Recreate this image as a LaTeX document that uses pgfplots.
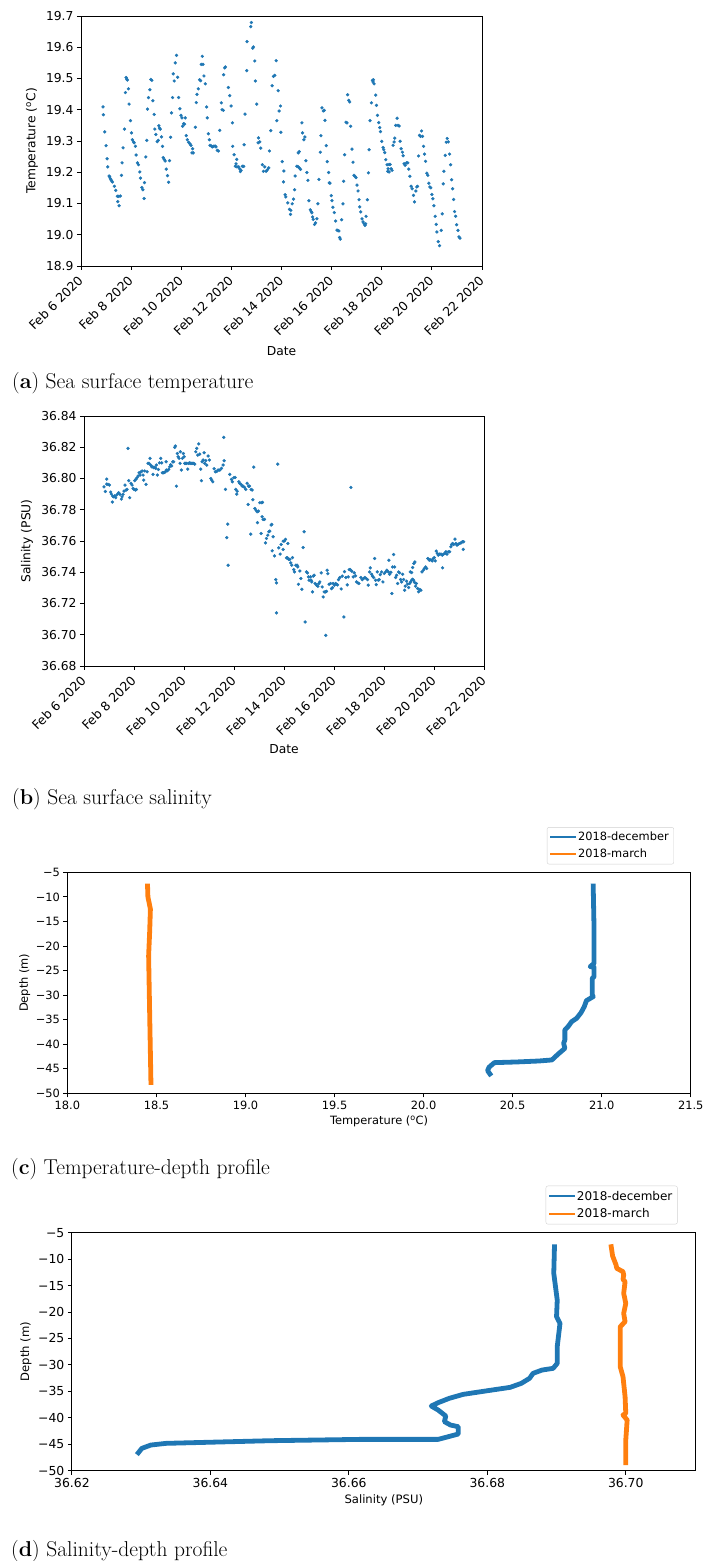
\documentclass[border=0pt]{standalone}
\usepackage{fontspec}
\usepackage{pgfplots}
\pgfplotsset{compat=1.18}
\newfontfamily\djv{DejaVu Sans}
\definecolor{tabblue}{HTML}{1F77B4}
\definecolor{taborange}{HTML}{FF7F0E}

\newcommand{\degC}{\textsuperscript{o}C}

\pgfplotsset{
  mplaxis/.style={
    scale only axis, anchor=south west,
    axis line style={line width=0.9pt, black},
    tick pos=left, tick align=outside, major tick length=4pt,
    major tick style={line width=0.9pt, black},
    tick label style={font=\djv\fontsize{12.3}{14}\selectfont},
    label style={font=\djv\fontsize{12.3}{14}\selectfont},
  },
  datelabels/.style={
    xmin=0, xmax=16,
    xtick={0,2,...,16},
    xticklabels={Feb 6 2020,Feb 8 2020,Feb 10 2020,Feb 12 2020,Feb 14 2020,Feb 16 2020,Feb 18 2020,Feb 20 2020,Feb 22 2020},
    xticklabel style={xshift=-4pt, yshift=-3pt, rotate=45, anchor=north east, inner sep=1pt, font=\djv\fontsize{12.5}{14}\selectfont},
  },
  profile/.style={
    ymin=-50, ymax=-5,
    ytick={-50,-45,-40,-35,-30,-25,-20,-15,-10,-5},
    yticklabels={−50,−45,−40,−35,−30,−25,−20,−15,−10,−5},
    ylabel={Depth (m)},
    legend cell align=left,
    legend image code/.code={\draw[line width=2pt] (0pt,0pt) -- (24pt,0pt);},
  },
  scatterdots/.style={only marks, mark=*, mark size=1.45pt, color=tabblue, mark options={draw=none, fill=tabblue}},
  profileline/.style={line width=4.8pt, line join=round, line cap=rect},
}

\begin{document}
\begin{tikzpicture}[x=1pt, y=1pt]
\useasboundingbox (0,0) rectangle (703,1561);

% ---------------- (a) sea surface temperature ----------------
\begin{axis}[mplaxis, datelabels,
  at={(81pt,1295pt)}, width=401pt, height=250pt,
  ymin=18.9, ymax=19.7,
  ytick={18.9,19.0,19.1,19.2,19.3,19.4,19.5,19.6,19.7},
  yticklabels={18.9,19.0,19.1,19.2,19.3,19.4,19.5,19.6,19.7},
  xlabel={Date}, ylabel={Temperature (\degC)},
  xlabel style={at={(axis description cs:0.5,-0.34)}, anchor=center},
  ylabel style={at={(axis description cs:-0.122,0.5)}, anchor=center},
]
\addplot[scatterdots] coordinates {
(0.88,19.409)(0.893,19.384)(0.947,19.329)(1.0,19.285)(1.04,19.243)(1.067,19.217)(1.12,19.188)(1.147,19.185)(1.173,19.179)(1.2,19.175)(1.227,19.172)(1.253,19.169)(1.333,19.155)(1.387,19.142)(1.453,19.123)(1.507,19.123)(1.573,19.124)(1.467,19.106)(1.52,19.093)
(1.613,19.190)(1.64,19.230)(1.68,19.278)(1.733,19.338)(1.773,19.455)(1.8,19.503)(1.827,19.498)(1.853,19.495)(1.893,19.467)(1.92,19.418)(1.973,19.365)(2.013,19.326)(2.053,19.304)(2.093,19.297)(2.12,19.294)(2.173,19.283)(2.2,19.255)(2.253,19.230)(2.293,19.224)(2.347,19.201)(2.373,19.181)(2.427,19.151)(2.467,19.144)(2.52,19.116)
(2.533,19.167)(2.587,19.249)(2.627,19.302)(2.653,19.402)(2.693,19.439)(2.747,19.464)(2.787,19.497)(2.827,19.494)(2.867,19.429)(2.92,19.385)(2.947,19.338)(2.987,19.321)(3.04,19.298)(3.08,19.302)(3.107,19.349)(3.133,19.341)(3.16,19.338)(3.213,19.313)(3.253,19.283)(3.28,19.247)(3.32,19.241)(3.36,19.236)(3.4,19.210)(3.453,19.189)(3.493,19.168)
(3.533,19.237)(3.573,19.312)(3.613,19.390)(3.653,19.439)(3.68,19.515)(3.72,19.492)(3.76,19.550)(3.813,19.574)(3.853,19.504)(3.893,19.439)(3.947,19.403)(3.987,19.382)(4.027,19.374)(4.053,19.347)(4.093,19.355)(4.133,19.354)(4.16,19.374)(4.2,19.317)(4.24,19.304)(4.293,19.296)(4.347,19.291)(4.387,19.286)(4.453,19.275)(4.427,19.262)(4.48,19.262)
(4.56,19.344)(4.6,19.423)(4.627,19.449)(4.68,19.467)(4.733,19.496)(4.773,19.493)(4.8,19.545)(4.84,19.571)(4.867,19.545)(4.907,19.508)(4.96,19.483)(5.013,19.409)(5.04,19.374)(5.08,19.323)(5.12,19.304)(5.147,19.286)(5.2,19.284)(5.24,19.281)(5.293,19.283)(5.347,19.284)(5.387,19.281)(5.44,19.270)(5.48,19.268)
(5.533,19.334)(5.6,19.422)(5.627,19.400)(5.68,19.398)(5.693,19.512)(5.733,19.534)(5.76,19.537)
(5.88,19.471)(5.933,19.445)(5.987,19.412)(6.04,19.358)(6.053,19.283)(6.107,19.256)(6.16,19.219)(6.187,19.227)(6.213,19.241)(6.227,19.217)(6.293,19.217)(6.333,19.211)(6.36,19.202)(6.387,19.206)(6.44,19.219)(6.493,19.219)
(6.507,19.288)(6.547,19.386)(6.613,19.525)(6.627,19.618)(6.773,19.666)(6.8,19.679)(6.853,19.597)(6.88,19.601)(6.933,19.556)(6.96,19.492)(7.013,19.418)(7.08,19.310)(7.067,19.294)(7.133,19.297)(7.173,19.277)(7.24,19.224)(7.28,19.203)(7.333,19.217)(7.387,19.203)(7.44,19.208)(7.493,19.214)
(7.52,19.268)(7.573,19.333)(7.627,19.477)(7.68,19.507)(7.733,19.510)(7.787,19.557)(7.813,19.365)(7.867,19.461)(7.907,19.396)(7.96,19.412)(7.973,19.328)(8.027,19.234)(8.093,19.204)(8.08,19.169)(8.147,19.128)(8.173,19.121)(8.253,19.102)(8.32,19.081)(8.373,19.078)(8.36,19.065)(8.427,19.099)
(8.48,19.114)(8.52,19.144)(8.547,19.188)(8.613,19.219)(8.667,19.217)(8.72,19.213)(8.76,19.209)(8.667,19.262)(8.707,19.266)(8.813,19.358)(8.84,19.326)(8.893,19.304)(8.933,19.313)(8.973,19.237)(9.013,19.199)(9.053,19.174)(9.093,19.109)(9.147,19.080)(9.187,19.074)(9.213,19.070)(9.24,19.057)(9.267,19.049)(9.32,19.033)(9.36,19.038)(9.413,19.051)
(9.453,19.099)(9.493,19.177)(9.547,19.264)(9.573,19.317)(9.613,19.406)(9.667,19.396)(9.707,19.398)(9.733,19.366)(9.787,19.285)(9.827,19.234)(9.88,19.199)(9.907,19.166)(9.933,19.165)(9.987,19.125)(10.013,19.109)(10.053,19.088)(10.107,19.071)(10.16,19.044)(10.213,19.015)(10.253,19.013)(10.293,19.012)(10.32,18.991)(10.347,18.986)
(10.4,19.048)(10.453,19.099)(10.48,19.171)(10.52,19.256)(10.573,19.360)(10.613,19.358)(10.64,19.448)(10.68,19.430)(10.72,19.425)(10.76,19.347)(10.813,19.274)(10.853,19.232)(10.893,19.190)(10.933,19.187)(10.973,19.183)(11.013,19.159)(11.053,19.140)(11.093,19.112)(11.12,19.089)(11.16,19.073)
(11.213,19.051)(11.253,19.041)(11.293,19.035)(11.333,19.030)(11.36,19.035)(11.373,19.059)(11.427,19.112)(11.467,19.198)(11.493,19.272)(11.533,19.365)(11.587,19.422)(11.627,19.494)(11.653,19.489)(11.667,19.496)(11.693,19.483)(11.76,19.447)(11.787,19.414)(11.827,19.382)(11.88,19.359)(11.92,19.343)(11.947,19.330)(12.0,19.299)(12.053,19.279)(12.08,19.272)(12.12,19.263)(12.16,19.240)(12.213,19.224)(12.253,19.211)(12.24,19.203)(12.293,19.225)(12.293,19.201)(12.333,19.225)(12.373,19.211)(12.413,19.206)
(12.453,19.286)(12.493,19.297)(12.52,19.309)(12.56,19.350)(12.613,19.373)(12.653,19.350)(12.693,19.348)(12.733,19.299)(12.773,19.275)(12.827,19.264)(12.853,19.253)(12.893,19.227)(12.933,19.222)(12.987,19.230)(13.04,19.230)(13.08,19.210)(13.12,19.187)(13.173,19.155)(13.213,19.147)(13.267,19.126)(13.307,19.105)(13.36,19.140)(13.4,19.153)(13.427,19.155)
(13.467,19.252)(13.507,19.318)(13.547,19.315)(13.587,19.332)(13.627,19.315)(13.667,19.283)(13.707,19.258)(13.747,19.235)(13.8,19.197)(13.84,19.190)(13.88,19.165)(13.92,19.153)(13.96,19.150)(14.0,19.129)(14.04,19.115)(14.08,19.093)(14.133,19.059)(14.173,19.033)(14.2,19.009)(14.253,18.978)(14.307,18.965)
(14.373,19.014)(14.413,19.067)(14.453,19.163)(14.48,19.203)(14.533,19.254)(14.573,19.296)(14.613,19.308)(14.653,19.297)(14.707,19.258)(14.747,19.224)(14.787,19.176)(14.827,19.147)(14.867,19.113)(14.907,19.074)(14.947,19.059)(14.987,19.032)(15.04,19.014)(15.08,18.993)(15.12,18.989)
};
\end{axis}

% ---------------- (b) sea surface salinity ----------------
\begin{axis}[mplaxis, datelabels,
  at={(84pt,895pt)}, width=400pt, height=250pt,
  ymin=36.68, ymax=36.84,
  ytick={36.68,36.70,36.72,36.74,36.76,36.78,36.80,36.82,36.84},
  yticklabels={36.68,36.70,36.72,36.74,36.76,36.78,36.80,36.82,36.84},
  xlabel={Date}, ylabel={Salinity (PSU)},
  xlabel style={at={(axis description cs:0.5,-0.332)}, anchor=center},
  ylabel style={at={(axis description cs:-0.1425,0.5)}, anchor=center},
]
\addplot[scatterdots] coordinates {
(0.80,36.7947)(0.854,36.7917)(0.907,36.7996)(0.907,36.7964)(0.961,36.7962)(1.014,36.7958)(1.067,36.7913)(1.094,36.7900)(1.134,36.7849)(1.148,36.7887)(1.188,36.7883)(1.228,36.7889)(1.268,36.7877)(1.308,36.7894)(1.361,36.7904)(1.388,36.7909)(1.441,36.7898)(1.495,36.7868)(1.521,36.7883)(1.561,36.7898)(1.601,36.7919)(1.641,36.7958)(1.681,36.7926)(1.721,36.7930)(1.761,36.8193)(1.788,36.7986)(1.828,36.7877)(1.882,36.7969)(1.922,36.7958)(1.962,36.7936)(2.002,36.7930)(2.055,36.7926)(2.095,36.7930)(2.028,36.7986)(2.082,36.7996)(2.122,36.8005)(2.162,36.8016)(2.202,36.8037)(2.242,36.8022)(2.268,36.8041)(2.322,36.8048)(2.362,36.8022)(2.389,36.7990)(2.429,36.8048)(2.482,36.7962)(2.522,36.8043)
(2.562,36.8097)(2.602,36.8097)(2.642,36.8129)(2.669,36.8086)(2.709,36.8075)(2.749,36.8075)(2.789,36.8069)(2.829,36.8071)(2.869,36.8065)(2.762,36.8026)(2.936,36.8022)(2.896,36.8086)(2.976,36.8058)(3.016,36.8100)(3.069,36.8129)(3.109,36.8100)(3.136,36.8037)(3.176,36.8037)(3.216,36.8039)(3.256,36.8043)(3.296,36.8054)(3.283,36.8107)(3.336,36.8050)(3.389,36.8058)(3.429,36.8075)(3.469,36.8088)(3.509,36.8080)(3.550,36.8107)(3.589,36.8107)(3.630,36.8199)(3.656,36.8208)(3.696,36.7951)(3.736,36.8160)(3.763,36.8139)(3.803,36.8129)(3.843,36.8097)(3.857,36.8171)(3.896,36.8054)(3.936,36.8129)(3.976,36.8160)
(4.003,36.8139)(4.030,36.8097)(4.070,36.8097)(4.110,36.8097)(4.150,36.8060)(4.190,36.8097)(4.230,36.8100)(4.270,36.8097)(4.310,36.8097)(4.350,36.8097)(4.390,36.8097)(4.430,36.8092)(4.470,36.8171)(4.510,36.8193)(4.550,36.8150)(4.590,36.8221)(4.630,36.8156)(4.670,36.8060)(4.697,36.7986)(4.724,36.8107)(4.764,36.8118)(4.804,36.8165)(4.831,36.8097)(4.871,36.8114)(4.911,36.8086)(4.964,36.8144)(5.017,36.8118)(5.071,36.8000)(5.111,36.7990)(5.151,36.7979)(5.204,36.8062)(5.258,36.8043)(5.311,36.8045)(5.364,36.8054)(5.431,36.8054)(5.498,36.8065)(5.565,36.8086)(5.591,36.8263)
(5.605,36.8114)(5.658,36.7930)(5.751,36.7708)(5.711,36.7622)(5.765,36.7445)(5.831,36.8026)(5.898,36.7994)(5.938,36.7979)(5.992,36.8005)(6.045,36.8007)(6.072,36.7930)(6.125,36.7919)(6.112,36.7900)(6.192,36.7979)(6.232,36.7969)(6.285,36.7962)(6.325,36.7951)(6.365,36.7951)(6.418,36.7943)(6.472,36.7930)(6.525,36.7969)(6.579,36.7951)(6.619,36.7951)(6.685,36.7930)(6.725,36.7926)(6.565,36.7834)(6.672,36.7644)(6.752,36.7864)(6.792,36.8073)(6.832,36.7808)(6.885,36.7796)(6.925,36.7787)(6.979,36.7791)(7.032,36.7845)(7.112,36.7845)(7.139,36.7847)(6.939,36.7717)(7.086,36.7648)(7.125,36.7755)(7.165,36.7738)(7.219,36.7738)
(7.259,36.7588)(7.299,36.7616)(7.352,36.7637)(7.392,36.7659)(7.432,36.7663)(7.486,36.7702)(7.512,36.7706)(7.566,36.7627)(7.526,36.7537)(7.619,36.7505)(7.672,36.7353)(7.699,36.7332)(7.699,36.7140)(7.752,36.8092)(7.793,36.7556)(7.846,36.7516)(7.886,36.7578)(7.966,36.7546)(7.966,36.7599)(8.019,36.7601)(8.059,36.7610)(8.099,36.7492)(8.139,36.7492)(8.192,36.7482)(8.232,36.7482)(8.272,36.7460)(8.152,36.7584)(8.312,36.7445)(8.339,36.7494)(8.392,36.7417)(8.419,36.7402)(8.472,36.7445)(8.526,36.7445)(8.552,36.7434)(8.579,36.7323)(8.632,36.7408)(8.672,36.7360)(8.712,36.7291)(8.767,36.7558)(8.806,36.7659)(8.846,36.7082)
(8.899,36.7402)(8.939,36.7396)(8.979,36.7370)(9.006,36.7349)(9.059,36.7370)(9.086,36.7349)(9.113,36.7338)(9.166,36.7375)(9.139,36.7274)(9.206,36.7381)(9.246,36.7328)(9.300,36.7317)(9.353,36.7310)(9.393,36.7328)(9.433,36.7338)(9.486,36.7396)(9.527,36.7306)(9.567,36.7242)(9.607,36.7274)(9.660,36.7274)(9.700,36.7278)(9.673,36.6996)(9.727,36.7413)(9.754,36.7391)(9.807,36.7323)(9.861,36.7328)(9.901,36.7295)(9.941,36.7302)(9.968,36.7328)(10.021,36.7317)(10.061,36.7328)(10.101,36.7323)(10.141,36.7319)(10.181,36.7353)(10.235,36.7366)(10.288,36.7293)(10.328,36.7375)(10.395,36.7114)(10.421,36.7404)(10.475,36.7366)(10.528,36.7319)(10.568,36.7370)(10.608,36.7417)(10.648,36.7417)(10.675,36.7943)(10.715,36.7406)(10.768,36.7370)(10.808,36.7396)(10.862,36.7377)(10.902,36.7338)(10.955,36.7332)(10.995,36.7328)
(11.076,36.7366)(11.129,36.7353)(11.182,36.7360)(11.236,36.7366)(11.289,36.7360)(11.342,36.7353)(11.369,36.7317)(11.423,36.7402)(11.450,36.7428)(11.503,36.7387)(11.543,36.7375)(11.583,36.7366)(11.623,36.7488)(11.663,36.7349)(11.690,36.7321)(11.730,36.7402)(11.770,36.7349)(11.810,36.7353)(11.850,36.7385)(11.903,36.7402)(11.957,36.7338)(12.010,36.7392)(12.063,36.7402)(12.117,36.7413)(12.170,36.7402)(12.197,36.7477)(12.224,36.7387)(12.277,36.7400)(12.317,36.7264)(12.344,36.7434)(12.384,36.7513)(12.424,36.7434)(12.464,36.7366)(12.504,36.7381)(12.544,36.7328)(12.584,36.7402)(12.624,36.7396)(12.664,36.7353)(12.704,36.7338)(12.744,36.7387)(12.784,36.7353)(12.824,36.7285)(12.851,36.7311)(12.904,36.7343)(12.944,36.7324)(12.984,36.7302)
(13.024,36.7328)(13.064,36.7338)(13.104,36.7349)(13.144,36.7355)(13.184,36.7349)(13.224,36.7334)(13.264,36.7311)(13.051,36.7402)(13.104,36.7398)(13.144,36.7430)(13.197,36.7456)(13.237,36.7466)(13.291,36.7328)(13.344,36.7296)(13.384,36.7275)(13.437,36.7290)(13.477,36.7285)(13.517,36.7402)(13.571,36.7413)(13.611,36.7424)(13.664,36.7434)(13.704,36.7424)(13.757,36.7488)(13.811,36.7477)(13.837,36.7481)(13.891,36.7477)(13.931,36.7473)(13.971,36.7488)(14.011,36.7494)(14.051,36.7473)(14.091,36.7535)(14.131,36.7520)(14.171,36.7509)(14.224,36.7516)(14.278,36.7516)(14.331,36.7509)(14.384,36.7516)(14.438,36.7520)(14.478,36.7531)(14.518,36.7516)(14.344,36.7428)(14.571,36.7531)(14.624,36.7531)(14.678,36.7563)(14.705,36.7578)(14.745,36.7584)(14.785,36.7578)(14.838,36.7612)(14.878,36.7584)(14.918,36.7573)(14.972,36.7580)(15.025,36.7584)(15.078,36.7588)(15.132,36.7595)(15.185,36.7595)(15.171,36.7546)
};
\end{axis}

% ---------------- (c) temperature-depth profile ----------------
\begin{axis}[mplaxis, profile,
  at={(67.4pt,467.7pt)}, width=623.4pt, height=221pt,
  tick label style={font=\djv\fontsize{11.4}{13}\selectfont},
  label style={font=\djv\fontsize{11.4}{13}\selectfont},
  xmin=18, xmax=21.5,
  xtick={18,18.5,19,19.5,20,20.5,21,21.5},
  xticklabels={18.0,18.5,19.0,19.5,20.0,20.5,21.0,21.5},
  xlabel={Temperature (\degC)},
  xlabel style={at={(axis description cs:0.5,-0.1285)}, anchor=center},
  ylabel style={at={(axis description cs:-0.0685,0.5)}, anchor=center},
  legend style={at={(axis description cs:0.973,1.036)}, anchor=south east,
    draw=black!18, rounded corners=2pt, fill=white,
    font=\djv\fontsize{11.4}{13}\selectfont,
    inner xsep=3pt, inner ysep=3pt, row sep=2.5pt},
]
\addplot[profileline, color=tabblue] coordinates {
(20.952,-7.78)(20.957,-16.74)(20.957,-23.53)(20.935,-24.21)(20.957,-24.34)(20.957,-26.25)(20.947,-26.58)(20.947,-29.98)(20.952,-30.32)(20.914,-31.13)(20.902,-32.35)(20.884,-33.57)(20.859,-34.73)(20.831,-35.41)(20.814,-36.29)(20.793,-37.10)(20.793,-39.14)(20.786,-39.82)(20.793,-40.84)(20.756,-41.99)(20.720,-43.21)(20.649,-43.42)(20.523,-43.62)(20.397,-43.76)(20.382,-44.23)(20.367,-44.71)(20.359,-45.39)(20.372,-46.06)
};
\addlegendentry{2018-december}
\addplot[profileline, color=taborange] coordinates {
(18.450,-7.8)(18.452,-10.0)(18.466,-12.5)(18.462,-17.0)(18.456,-22.0)(18.460,-30.0)(18.465,-40.0)(18.469,-47.8)
};
\addlegendentry{2018-march}
\end{axis}

% ---------------- (d) salinity-depth profile ----------------
\begin{axis}[mplaxis, profile,
  at={(71.9pt,90.3pt)}, width=623.8pt, height=238pt,
  tick label style={font=\djv\fontsize{12.4}{14}\selectfont},
  label style={font=\djv\fontsize{11.6}{13}\selectfont},
  xmin=36.62, xmax=36.7101,
  xtick={36.62,36.64,36.66,36.68,36.70},
  xticklabels={36.62,36.64,36.66,36.68,36.70},
  xlabel={Salinity (PSU)},
  xlabel style={at={(axis description cs:0.5,-0.126)}, anchor=center},
  ylabel style={at={(axis description cs:-0.0736,0.5)}, anchor=center},
  legend style={at={(axis description cs:0.971,1.035)}, anchor=south east,
    draw=black!18, rounded corners=2pt, fill=white,
    font=\djv\fontsize{12}{14}\selectfont,
    inner xsep=3pt, inner ysep=3pt, row sep=3pt},
]
\addplot[profileline, color=tabblue] coordinates {
(36.6897,-7.65)(36.6896,-12.69)(36.6901,-17.73)(36.6900,-20.88)(36.6905,-22.14)(36.6901,-26.55)(36.6901,-29.71)(36.6895,-30.65)(36.6879,-30.97)(36.6866,-31.60)(36.6861,-32.54)(36.6849,-33.49)(36.6833,-34.24)(36.6797,-34.94)(36.6765,-35.57)(36.6745,-36.32)(36.6729,-37.14)(36.6719,-37.77)(36.6729,-38.53)(36.6740,-39.66)(36.6738,-40.73)(36.6747,-41.37)(36.6758,-41.68)(36.6758,-43.07)(36.6729,-44.08)(36.6616,-44.08)(36.6486,-44.33)(36.6336,-44.83)(36.6314,-45.15)(36.6301,-45.78)(36.6296,-46.60)
};
\addlegendentry{2018-december}
\addplot[profileline, color=taborange] coordinates {
(36.6979,-7.65)(36.6981,-9.41)(36.6986,-11.11)(36.6987,-11.74)(36.6996,-12.37)(36.6997,-13.00)(36.6996,-13.82)(36.6999,-14.26)(36.6997,-16.47)(36.7000,-18.36)(36.6997,-20.25)(36.6999,-21.83)(36.6992,-22.77)(36.6992,-30.34)(36.6996,-32.23)(36.6999,-36.01)(36.7000,-39.16)(36.6996,-39.47)(36.7002,-40.42)(36.7000,-44.20)(36.7000,-48.49)
};
\addlegendentry{2018-march}
\end{axis}

% ---------------- sub-figure captions ----------------
\begin{scope}[every node/.style={anchor=base west, inner sep=0pt, font=\fontsize{21.5}{25}\selectfont}]
\node at (12,1172) {(\textbf{a}) Sea surface temperature};
\node at (12,756) {(\textbf{b}) Sea surface salinity};
\node at (11,386) {(\textbf{c}) Temperature-depth profile};
\node at (11,4.3) {(\textbf{d}) Salinity-depth profile};
\end{scope}
\end{tikzpicture}
\end{document}
